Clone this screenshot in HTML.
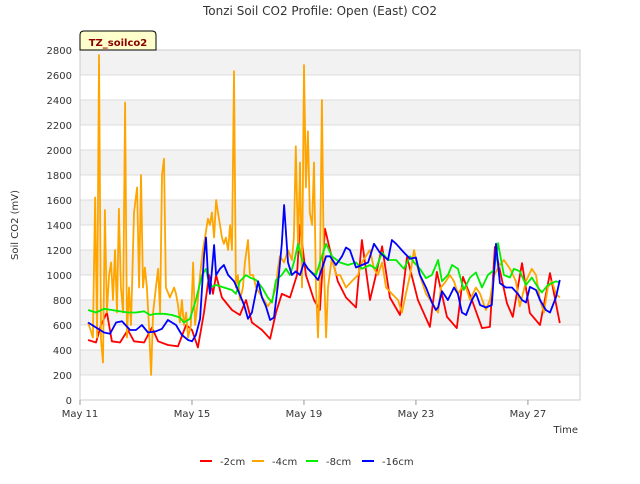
<!DOCTYPE html>
<html><head><meta charset="utf-8"><style>
body{margin:0;background:#fff;font-family:"DejaVu Sans","Liberation Sans",sans-serif}
svg text{font-family:"DejaVu Sans","Liberation Sans",sans-serif}
</style></head><body>
<svg id="chart" width="640" height="480" xmlns="http://www.w3.org/2000/svg">
<rect width="640" height="480" fill="#fff"/>
<g id="bands"></g><g id="grid"></g>
<rect x="80" y="50" width="500" height="350" fill="none" stroke="#ccc"/>
<g id="series"></g><g id="yticks"></g><g id="xticks"></g>
<text x="320" y="15" text-anchor="middle" font-size="12" fill="#333">Tonzi Soil CO2 Profile: Open (East) CO2</text>
<text transform="translate(18,225) rotate(-90)" text-anchor="middle" font-size="10" fill="#333">Soil CO2 (mV)</text>
<text x="578" y="433" text-anchor="end" font-size="10" fill="#333">Time</text>
<g>
<path d="M80,50 L80,35 Q80,31 84,31 L152,31 Q156,31 156,35 L156,50 Z" fill="#ffffcc" stroke="#000"/>
<text x="118" y="46" text-anchor="middle" font-size="10" font-weight="bold" fill="#8b0000">TZ_soilco2</text></g>
<g id="legend"></g>
</svg>
<script>
const yTicks=[0,200,400,600,800,1000,1200,1400,1600,1800,2000,2200,2400,2600,2800];
const xTickDays=[0,4,8,12,16];
const xTickLabels=["May 11","May 15","May 19","May 23","May 27"];
const seriesNames=["-2cm","-4cm","-8cm","-16cm"];
const seriesColors=["#ff0000","#ffa500","#00ee00","#0000ff"];
const redT=[.29,.57,.75,.96,1.14,1.43,1.71,1.93,2.29,2.57,2.79,3.14,3.5,3.79,4.0,4.21,4.43,4.61,4.75,4.86,5.07,5.43,5.71,5.93,6.14,6.5,6.79,7.0,7.21,7.5,7.75,7.86,8.07,8.36,8.57,8.75,8.93,9.21,9.5,9.86,10.07,10.36,10.57,10.79,11.07,11.43,11.68,12.07,12.5,12.75,13.11,13.46,13.68,14.0,14.36,14.64,14.82,15.25,15.46,15.79,16.07,16.43,16.79,17.14];
const redV=[480,460,600,700,470,460,560,470,460,580,470,440,430,600,560,420,700,1000,850,1000,820,720,680,800,620,560,490,700,850,820,1000,1400,1000,800,720,1370,1200,950,820,740,1280,800,1000,1230,820,680,1145,800,585,1025,665,575,985,800,575,585,1225,775,665,1095,695,600,1015,615];
const orangeT=[.29,.46,.54,.61,.68,.75,.82,.89,.96,1.04,1.11,1.18,1.25,1.32,1.39,1.46,1.54,1.61,1.68,1.75,1.82,1.93,2.04,2.11,2.18,2.25,2.32,2.39,2.46,2.54,2.61,2.71,2.79,2.86,2.93,3.0,3.07,3.21,3.36,3.43,3.5,3.57,3.64,3.71,3.79,3.86,3.96,4.04,4.11,4.21,4.29,4.39,4.5,4.57,4.64,4.71,4.79,4.86,4.93,5.0,5.07,5.14,5.21,5.29,5.36,5.43,5.5,5.57,5.64,5.71,5.82,5.89,6.0,6.07,6.18,6.29,6.43,6.57,6.71,6.86,7.0,7.07,7.14,7.29,7.43,7.57,7.64,7.71,7.79,7.86,7.93,8.0,8.07,8.14,8.21,8.29,8.36,8.43,8.5,8.57,8.64,8.71,8.79,8.86,9.0,9.14,9.29,9.5,9.71,9.93,10.07,10.21,10.36,10.5,10.64,10.79,10.93,11.14,11.36,11.5,11.64,11.79,11.93,12.07,12.21,12.36,12.57,12.79,12.89,13.07,13.21,13.36,13.5,13.64,13.79,13.93,14.14,14.29,14.5,14.64,14.79,15.0,15.14,15.36,15.57,15.71,15.93,16.14,16.29,16.43,16.57,16.71,16.86,17.0,17.14];
const orangeV=[620,500,1620,500,2760,480,300,1520,700,1000,1100,800,1200,700,1530,900,700,2380,500,900,600,1500,1700,900,1800,900,1060,900,600,200,700,900,1050,700,1800,1930,900,820,900,850,760,620,800,600,700,500,600,1100,600,800,1000,1200,1350,1450,1400,1500,1300,1600,1500,1400,1300,1250,1300,1200,1400,1200,2630,900,1000,800,900,1100,1280,1000,1000,900,850,800,750,800,900,1050,1150,1100,1200,1120,1300,2030,1200,1900,900,2680,1700,2150,1500,1400,1900,900,500,1000,2400,1100,500,900,1150,1000,1000,900,950,1000,1100,1150,1200,1050,1000,1100,900,850,800,700,850,1000,1200,1050,950,850,780,700,900,950,1000,950,850,900,900,800,900,850,720,800,1000,1080,1120,1050,950,750,950,1050,1000,800,700,900,950,850,820];
const greenT=[.29,.57,.86,1.14,1.43,1.71,2.0,2.29,2.5,2.71,3.0,3.29,3.57,3.71,3.93,4.14,4.36,4.5,4.64,4.86,5.14,5.43,5.57,5.71,5.93,6.07,6.29,6.5,6.71,6.86,7.0,7.21,7.36,7.5,7.64,7.79,7.93,8.14,8.29,8.43,8.64,8.79,9.0,9.29,9.57,9.86,10.07,10.36,10.57,10.79,11.0,11.29,11.57,11.79,11.93,12.14,12.36,12.57,12.79,12.93,13.14,13.29,13.5,13.71,13.93,14.14,14.36,14.57,14.79,14.93,15.14,15.36,15.5,15.71,15.93,16.14,16.36,16.5,16.71,17.0,17.14];
const greenV=[720,700,730,720,710,700,700,710,680,690,690,680,660,620,650,800,1000,1050,900,920,900,880,850,950,1000,980,960,900,820,780,960,1000,1050,1000,1100,1250,1120,1050,1020,1000,1150,1250,1150,1100,1080,1100,1050,1080,1050,1180,1120,1120,1050,1150,1100,1050,975,1000,1120,950,1000,1080,1050,880,980,1020,900,1000,1040,1255,1000,980,1050,1030,920,980,900,860,920,950,940];
const blueT=[.29,.57,.86,1.07,1.29,1.5,1.79,2.0,2.21,2.43,2.71,2.93,3.14,3.43,3.64,3.86,4.0,4.14,4.29,4.43,4.5,4.57,4.64,4.79,4.86,5.0,5.14,5.29,5.5,5.64,5.86,6.0,6.14,6.36,6.5,6.64,6.79,6.93,7.07,7.21,7.29,7.43,7.57,7.71,7.86,8.0,8.14,8.36,8.5,8.64,8.79,8.93,9.14,9.36,9.5,9.64,9.86,10.07,10.29,10.5,10.71,11.0,11.14,11.29,11.57,11.79,12.0,12.14,12.36,12.57,12.71,12.79,12.93,13.14,13.36,13.5,13.64,13.79,14.0,14.14,14.29,14.5,14.71,14.86,15.0,15.21,15.43,15.64,15.79,15.93,16.07,16.29,16.43,16.64,16.79,17.0,17.14];
const blueV=[620,580,540,530,620,630,560,560,600,540,550,570,640,600,520,480,470,520,650,1150,1300,1000,850,1240,1000,1050,1080,1000,950,880,760,650,700,950,820,750,640,660,920,1250,1560,1100,1000,1030,1000,1100,1050,1000,960,1050,1150,1150,1080,1150,1220,1200,1060,1080,1100,1250,1180,1120,1280,1250,1180,1130,1140,1000,900,780,720,740,870,800,900,850,700,680,800,855,760,740,760,1250,935,900,900,850,800,780,905,880,800,720,700,820,960];

const X0=80,X1=580,Y0=400,Y1=50,DMAX=17.86,VMAX=2800;
const xs=d=>X0+d/DMAX*(X1-X0);
const ys=v=>Y0-v/VMAX*(Y0-Y1);
const NS="http://www.w3.org/2000/svg";
function mk(tag,parent){const e=document.createElementNS(NS,tag);document.getElementById(parent).appendChild(e);return e;}

for(let i=0;i<yTicks.length-1;i++){
  if(i%2===1){
    const r=mk('rect','bands');
    
    
    r.setAttribute('x',X0);r.setAttribute('width',X1-X0);
    r.setAttribute('y',ys(yTicks[i+1]));r.setAttribute('height',ys(yTicks[i])-ys(yTicks[i+1]));
    r.setAttribute('fill','#f2f2f2');
  }
}
yTicks.forEach(v=>{
  const l=mk('line','grid');
  
  
  l.setAttribute('x1',X0);l.setAttribute('x2',X1);l.setAttribute('y1',ys(v));l.setAttribute('y2',ys(v));
  l.setAttribute('stroke','#dcdcdc');
  const t=mk('text','yticks');
  
  
  t.setAttribute('x',X0-8);t.setAttribute('y',ys(v)+4);t.setAttribute('text-anchor','end');
  t.setAttribute('font-size','10');t.setAttribute('fill','#333');t.textContent=v;
});
xTickDays.forEach((d,i)=>{
  const l=mk('line','xticks');
  
  
  l.setAttribute('x1',xs(d));l.setAttribute('x2',xs(d));l.setAttribute('y1',Y0);l.setAttribute('y2',Y0+5);
  l.setAttribute('stroke','#999');
  const t=mk('text','xticks');
  
  
  t.setAttribute('x',xs(d));t.setAttribute('y',Y0+17);t.setAttribute('text-anchor','middle');
  t.setAttribute('font-size','10');t.setAttribute('fill','#333');t.textContent=xTickLabels[i];
});
const allT=[redT,orangeT,greenT,blueT],allV=[redV,orangeV,greenV,blueV];
const sNames=['series-2cm','series-4cm','series-8cm','series-16cm'];
allT.forEach((T,k)=>{
  const p=mk('polyline','series');
  
  
  p.setAttribute('points',T.map((d,i)=>xs(d).toFixed(1)+','+ys(allV[k][i]).toFixed(1)).join(' '));
  p.setAttribute('fill','none');p.setAttribute('stroke',seriesColors[k]);p.setAttribute('stroke-width','1.8');
  p.setAttribute('stroke-linejoin','round');
});
const legX=[200,252,306,362];
seriesNames.forEach((n,k)=>{
  const l=mk('line','legend');
  
  
  l.setAttribute('x1',legX[k]);l.setAttribute('x2',legX[k]+12);l.setAttribute('y1',461);l.setAttribute('y2',461);
  l.setAttribute('stroke',seriesColors[k]);l.setAttribute('stroke-width','2');
  const t=mk('text','legend');
  
  
  t.setAttribute('x',legX[k]+20);t.setAttribute('y',465);t.setAttribute('font-size','10');t.setAttribute('fill','#333');
  t.textContent=n;
});
</script>
</body></html>
